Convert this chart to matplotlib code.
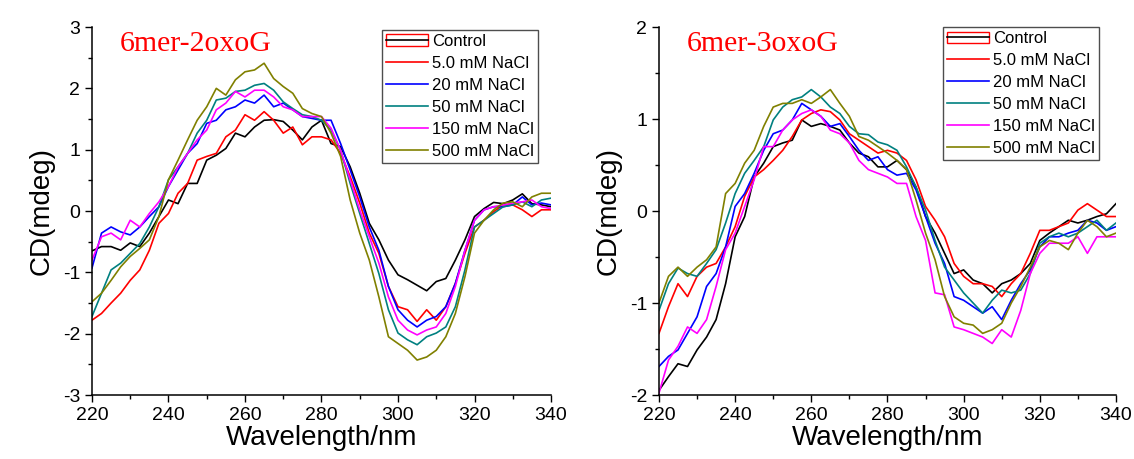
import numpy as np
import matplotlib
matplotlib.use("Agg")
import matplotlib.pyplot as plt
from matplotlib.lines import Line2D
from matplotlib.patches import Patch
from matplotlib.legend_handler import HandlerTuple
from matplotlib.ticker import MultipleLocator

# wavelength grid (nm), one reading every 2.5 nm
wavelength = np.arange(220, 340.01, 2.5)

labels = ["Control", "5.0 mM NaCl", "20 mM NaCl", "50 mM NaCl", "150 mM NaCl", "500 mM NaCl"]
colors = ["#000000", "#ff0000", "#0000ff", "#008080", "#ff00ff", "#808000"]

# 6mer-2oxoG (left panel), CD in mdeg
oxo2_control = [-0.65, -0.58, -0.58, -0.64, -0.52, -0.58, -0.36, -0.09, 0.18, 0.12, 0.45, 0.45,
                0.83, 0.91, 1.02, 1.27, 1.21, 1.37, 1.48, 1.49, 1.46, 1.32, 1.16, 1.37, 1.48,
                1.10, 1.05, 0.72, 0.29, -0.20, -0.47, -0.80, -1.04, -1.12, -1.21, -1.30, -1.15,
                -1.10, -0.80, -0.47, -0.09, 0.04, 0.14, 0.12, 0.18, 0.28, 0.12, 0.10, 0.07]
oxo2_5mM = [-1.78, -1.67, -1.50, -1.34, -1.13, -0.96, -0.64, -0.20, -0.04, 0.29, 0.45, 0.83,
            0.89, 0.94, 1.21, 1.32, 1.57, 1.48, 1.62, 1.48, 1.27, 1.37, 1.08, 1.21, 1.21,
            1.16, 0.94, 0.56, 0.13, -0.36, -0.69, -1.23, -1.56, -1.61, -1.80, -1.61, -1.78,
            -1.56, -1.18, -0.69, -0.26, -0.15, -0.01, 0.10, 0.10, 0.02, -0.09, 0.02, 0.02]
oxo2_20mM = [-0.93, -0.36, -0.26, -0.34, -0.39, -0.26, -0.09, 0.07, 0.40, 0.67, 0.94, 1.10,
             1.43, 1.48, 1.65, 1.70, 1.81, 1.76, 1.89, 1.70, 1.76, 1.65, 1.54, 1.51, 1.48,
             1.48, 1.10, 0.67, 0.23, -0.26, -0.64, -1.23, -1.61, -1.78, -1.89, -1.78, -1.72,
             -1.56, -1.18, -0.64, -0.15, 0.02, 0.07, 0.07, 0.10, 0.23, 0.10, 0.13, 0.10]
oxo2_50mM = [-1.72, -1.34, -0.96, -0.85, -0.69, -0.53, -0.26, 0.07, 0.51, 0.72, 0.94, 1.27,
             1.48, 1.81, 1.84, 1.95, 1.97, 2.05, 2.08, 1.97, 1.78, 1.67, 1.57, 1.54, 1.48,
             1.32, 0.99, 0.45, -0.04, -0.53, -1.02, -1.61, -1.99, -2.10, -2.18, -2.05, -1.99,
             -1.89, -1.56, -0.96, -0.26, -0.15, -0.04, 0.07, 0.10, 0.15, 0.07, 0.18, 0.21]
oxo2_150mM = [-0.80, -0.42, -0.36, -0.47, -0.15, -0.26, -0.04, 0.15, 0.40, 0.72, 0.94, 1.16,
              1.32, 1.65, 1.76, 1.95, 1.86, 1.97, 1.97, 1.86, 1.70, 1.65, 1.54, 1.54, 1.54,
              1.35, 0.99, 0.51, 0.02, -0.42, -0.85, -1.40, -1.78, -1.94, -2.02, -1.94, -1.89,
              -1.67, -1.23, -0.64, -0.15, 0.02, 0.07, 0.10, 0.13, 0.15, 0.18, 0.07, 0.04]
oxo2_500mM = [-1.48, -1.34, -1.13, -0.91, -0.74, -0.61, -0.47, -0.09, 0.51, 0.83, 1.16, 1.48,
              1.70, 2.00, 1.89, 2.14, 2.27, 2.30, 2.41, 2.16, 2.03, 1.92, 1.67, 1.59, 1.54,
              1.27, 0.89, 0.18, -0.36, -0.80, -1.40, -2.05, -2.16, -2.27, -2.43, -2.38, -2.27,
              -2.05, -1.67, -1.07, -0.36, -0.15, 0.02, 0.13, 0.15, 0.07, 0.23, 0.29, 0.29]

# 6mer-3oxoG (right panel), CD in mdeg
oxo3_control = [-1.95, -1.80, -1.66, -1.69, -1.51, -1.37, -1.18, -0.79, -0.28, -0.06, 0.37, 0.52,
                0.70, 0.74, 0.77, 0.99, 0.92, 0.95, 0.92, 0.88, 0.74, 0.63, 0.59, 0.48, 0.48,
                0.55, 0.45, 0.26, -0.06, -0.24, -0.46, -0.68, -0.64, -0.75, -0.79, -0.89, -0.79,
                -0.75, -0.68, -0.57, -0.32, -0.24, -0.17, -0.10, -0.13, -0.10, -0.06, -0.03, 0.08]
oxo3_5mM = [-1.33, -1.04, -0.79, -0.93, -0.71, -0.61, -0.57, -0.39, -0.17, 0.16, 0.37, 0.45,
            0.55, 0.66, 0.81, 0.99, 1.06, 1.10, 1.08, 0.99, 0.84, 0.77, 0.70, 0.63, 0.66,
            0.63, 0.55, 0.34, 0.05, -0.10, -0.28, -0.57, -0.71, -0.79, -0.79, -0.82, -0.93,
            -0.79, -0.68, -0.46, -0.21, -0.21, -0.17, -0.13, 0.01, 0.08, 0.01, -0.06, -0.06]
oxo3_20mM = [-1.69, -1.58, -1.51, -1.33, -1.15, -0.82, -0.68, -0.39, 0.05, 0.19, 0.41, 0.66,
             0.84, 0.88, 0.99, 1.17, 1.10, 1.03, 0.92, 0.95, 0.81, 0.66, 0.55, 0.59, 0.45,
             0.39, 0.41, 0.23, -0.06, -0.35, -0.57, -0.93, -0.97, -1.04, -1.11, -1.04, -1.18,
             -0.97, -0.79, -0.64, -0.39, -0.28, -0.28, -0.24, -0.21, -0.10, -0.13, -0.21, -0.17]
oxo3_50mM = [-1.08, -0.79, -0.62, -0.68, -0.71, -0.57, -0.42, -0.13, 0.19, 0.41, 0.55, 0.70,
             0.99, 1.13, 1.21, 1.24, 1.32, 1.24, 1.13, 1.06, 0.92, 0.84, 0.83, 0.75, 0.72,
             0.66, 0.48, 0.26, 0.01, -0.32, -0.61, -0.75, -0.89, -1.00, -1.11, -0.97, -0.86,
             -0.89, -0.86, -0.68, -0.35, -0.28, -0.24, -0.28, -0.24, -0.17, -0.10, -0.21, -0.13]
oxo3_150mM = [-1.98, -1.62, -1.47, -1.26, -1.33, -1.18, -0.82, -0.42, -0.24, 0.05, 0.34, 0.70,
              0.70, 0.88, 0.99, 1.06, 1.10, 1.03, 0.88, 0.84, 0.74, 0.55, 0.45, 0.41, 0.37,
              0.30, 0.30, -0.06, -0.32, -0.89, -0.91, -1.26, -1.29, -1.33, -1.37, -1.44, -1.29,
              -1.37, -1.08, -0.68, -0.46, -0.35, -0.35, -0.35, -0.28, -0.46, -0.28, -0.28, -0.28]
oxo3_500mM = [-1.00, -0.71, -0.61, -0.71, -0.61, -0.53, -0.39, 0.19, 0.30, 0.52, 0.66, 0.92,
              1.13, 1.17, 1.17, 1.21, 1.17, 1.24, 1.32, 1.17, 1.03, 0.81, 0.77, 0.70, 0.63,
              0.55, 0.45, 0.12, -0.24, -0.53, -0.93, -1.15, -1.22, -1.24, -1.33, -1.29, -1.22,
              -1.00, -0.82, -0.61, -0.39, -0.32, -0.35, -0.42, -0.24, -0.10, -0.17, -0.28, -0.24]

panels = [
    ("6mer-2oxoG", [oxo2_control, oxo2_5mM, oxo2_20mM, oxo2_50mM, oxo2_150mM, oxo2_500mM], (-3, 3)),
    ("6mer-3oxoG", [oxo3_control, oxo3_5mM, oxo3_20mM, oxo3_50mM, oxo3_150mM, oxo3_500mM], (-2, 2)),
]

plt.rcParams['font.family'] = ['Liberation Sans', 'DejaVu Sans']
plt.rcParams['axes.unicode_minus'] = False

fig = plt.figure(figsize=(11.34, 4.59), dpi=100)
ax_rects = [[0.0811, 0.1394, 0.4048, 0.8017], [0.5811, 0.1394, 0.4030, 0.8017]]
legend_anchor = [(0.972, 0.992), (0.963, 1.0)]

for i, (title, series, ylim) in enumerate(panels):
    ax = fig.add_axes(ax_rects[i])
    for vals, lab, col in zip(series, labels, colors):
        ax.plot(wavelength, vals, color=col, lw=1.2, label=lab)

    ax.set_xlim(220, 340)
    ax.set_ylim(*ylim)
    ax.xaxis.set_major_locator(MultipleLocator(20))
    ax.xaxis.set_minor_locator(MultipleLocator(10))
    ax.yaxis.set_major_locator(MultipleLocator(1))
    ax.yaxis.set_minor_locator(MultipleLocator(0.5))
    ax.tick_params(which='major', direction='out', length=5, width=1, labelsize=14)
    ax.tick_params(which='minor', direction='out', length=3, width=1)
    for side in ['top', 'right']:
        ax.spines[side].set_visible(False)
    for side in ['left', 'bottom']:
        ax.spines[side].set_linewidth(1.1)

    ax.set_xlabel("Wavelength/nm", fontsize=20, labelpad=1)
    ax.set_ylabel("CD(mdeg)", fontsize=20, labelpad=6)

    ax.text(0.06, 0.955, title, transform=ax.transAxes, color='#ff0000', fontsize=21.5,
            family='Liberation Serif', va='center', ha='left')

    # legend, with the red box round the Control handle as in the original
    handles = [Line2D([], [], color=c, lw=1.2) for c in colors]
    handles[0] = (Patch(facecolor='none', edgecolor='#ff0000', lw=1.0),
                  Line2D([], [], color=colors[0], lw=1.2))
    leg = ax.legend(handles, labels, loc='upper right', bbox_to_anchor=legend_anchor[i],
                    borderaxespad=0, fontsize=12, frameon=True, fancybox=False,
                    handlelength=2.5, handletextpad=0.25, labelspacing=0.42, borderpad=0.25,
                    handler_map={tuple: HandlerTuple(ndivide=1)})
    leg.get_frame().set_edgecolor('#222222')
    leg.get_frame().set_linewidth(1.0)

fig.savefig("out.png", dpi=100)
